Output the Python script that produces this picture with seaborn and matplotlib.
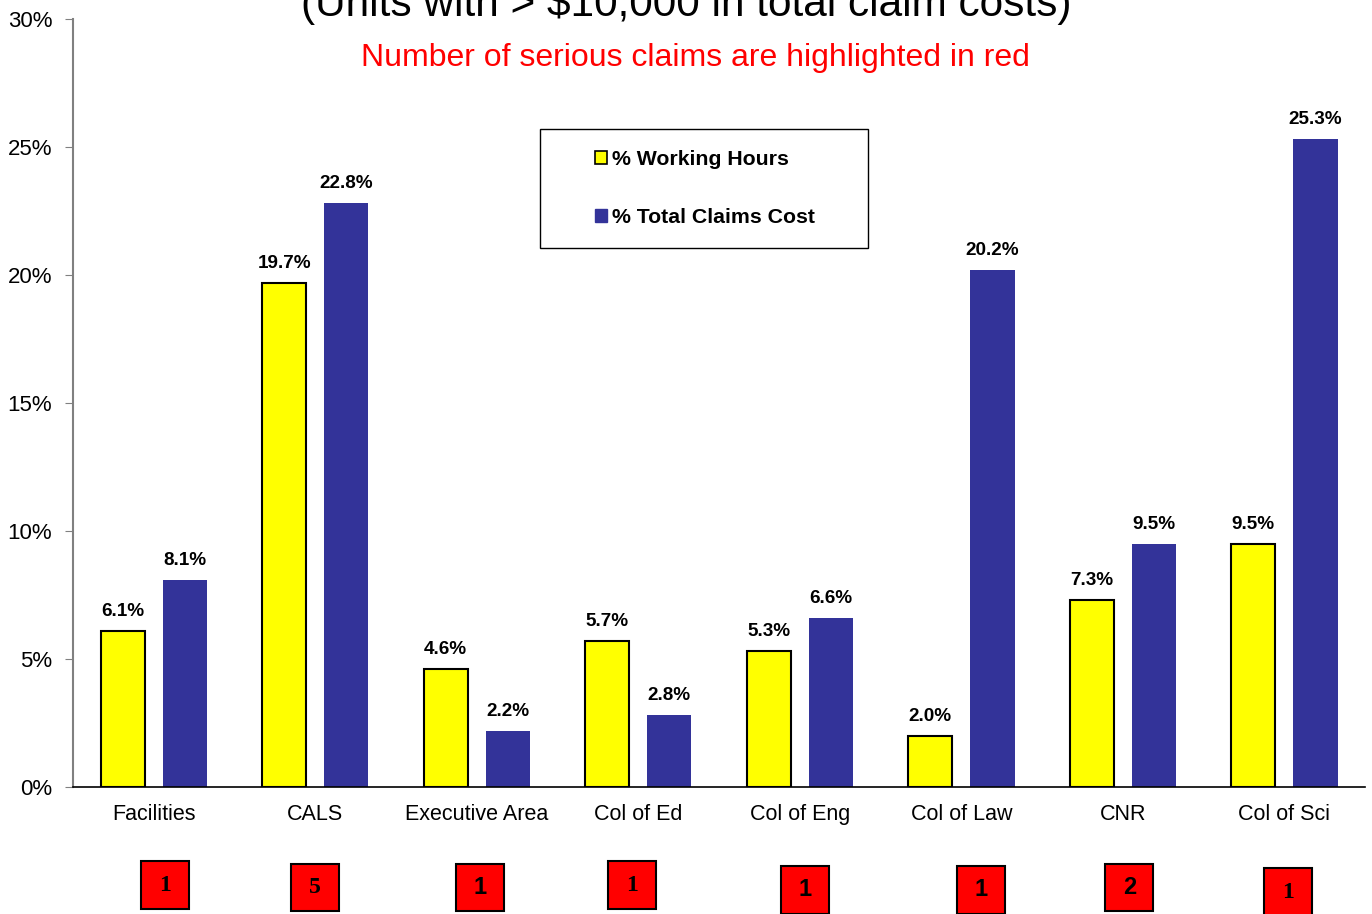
"""Working hours vs total claims cost by unit, with serious-claim counts."""
import matplotlib; matplotlib.use("Agg")
import pandas as pd
import matplotlib.pyplot as plt
import seaborn as sns
from matplotlib.patches import Patch, Rectangle
from matplotlib.transforms import blended_transform_factory

units = ["Facilities", "CALS", "Executive Area", "Col of Ed", "Col of Eng",
         "Col of Law", "CNR", "Col of Sci"]
working_hours = [6.1, 19.7, 4.6, 5.7, 5.3, 2.0, 7.3, 9.5]
claims_cost = [8.1, 22.8, 2.2, 2.8, 6.6, 20.2, 9.5, 25.3]
serious_claims = [1, 5, 1, 1, 1, 1, 2, 1]
series = ["% Working Hours", "% Total Claims Cost"]

sns.set_style("white")
plt.rcParams["font.family"] = ["Liberation Sans", "DejaVu Sans"]
plt.rcParams["text.color"] = "black"

df = pd.DataFrame({
    "unit": units * 2,
    "series": [series[0]] * len(units) + [series[1]] * len(units),
    "value": working_hours + claims_cost,
})

fig = plt.figure(figsize=(13.72, 9.14), dpi=100)
ax = fig.add_axes([0.0532, 0.139, 0.9418, 0.840])
sns.barplot(data=df, x="unit", y="value", hue="series", order=units,
            hue_order=series, palette=["#FFFF00", "#333399"], width=0.77,
            gap=0.29, saturation=1, legend=False, ax=ax)
for bar in ax.containers[0]:
    bar.set_edgecolor("black"); bar.set_linewidth(1.5)
for bar in ax.containers[1]:
    bar.set_linewidth(0)
for cont in ax.containers:
    ax.bar_label(cont, fmt="%.1f%%", padding=8, fontsize=13.6, fontweight="bold",
                 color="black")

ax.set_xlim(-0.5, len(units) - 0.5)
ax.set_ylim(0, 30)
ax.set_yticks(range(0, 31, 5))
ax.set_yticklabels([f"{t}%" for t in range(0, 31, 5)], fontsize=16)
ax.tick_params(axis="x", labelsize=15.5, length=0, pad=12, labelcolor="black")
ax.tick_params(axis="y", left=True, length=6, color="#808080", direction="out", pad=9,
               labelcolor="black")
ax.set_xlabel(""); ax.set_ylabel("")
sns.despine(ax=ax)
ax.spines["left"].set_color("#808080"); ax.spines["left"].set_linewidth(1.5)
ax.spines["bottom"].set_color("black"); ax.spines["bottom"].set_linewidth(1.2)

# legend inside a drawn frame
ax.add_patch(Rectangle((0.3615, 0.702), 0.254, 0.155, transform=ax.transAxes,
                       facecolor="white", edgecolor="black", lw=1, zorder=3))
handles = [Patch(facecolor="#FFFF00", edgecolor="black", lw=1.2),
           Patch(facecolor="#333399", edgecolor="#333399")]
leg = ax.legend(handles, series, loc="center", bbox_to_anchor=(0.4888, 0.7795),
                frameon=False, prop={"size": 15.3, "weight": "bold"}, handlelength=0.6,
                handleheight=0.6, handletextpad=0.2, labelspacing=1.85)
for t in leg.get_texts():
    t.set_color("black")

# red boxes with number of serious claims
box_dx = [0.07, 0.0, 0.02, -0.04, 0.03, 0.12, 0.04, 0.02]
box_y = [-0.128, -0.131, -0.131, -0.128, -0.134, -0.134, -0.131, -0.137]
box_font = ["Liberation Serif", "Liberation Serif", "Liberation Sans", "Liberation Serif",
            "Liberation Sans", "Liberation Sans", "Liberation Sans", "Liberation Serif"]
trans = blended_transform_factory(ax.transData, ax.transAxes)
for i, (n, dx, yc, fam) in enumerate(zip(serious_claims, box_dx, box_y, box_font)):
    ax.add_patch(Rectangle((i + dx - 0.149, yc - 0.031), 0.298, 0.062,
                           transform=trans, facecolor="#FF0000", edgecolor="black",
                           lw=1.5, clip_on=False))
    ax.text(i + dx, yc, str(n), transform=trans, ha="center", va="center",
            fontsize=17, fontweight="bold", family=fam, color="black")

fig.text(0.5, 1 - 16 / 914, "(Units with > $10,000 in total claim costs)",
         ha="center", va="baseline", fontsize=30.5, color="black")
fig.text(0.5066, 1 - 66 / 914, "Number of serious claims are highlighted in red",
         ha="center", va="baseline", fontsize=23, color="red")

fig.savefig("out.png", dpi=100)
